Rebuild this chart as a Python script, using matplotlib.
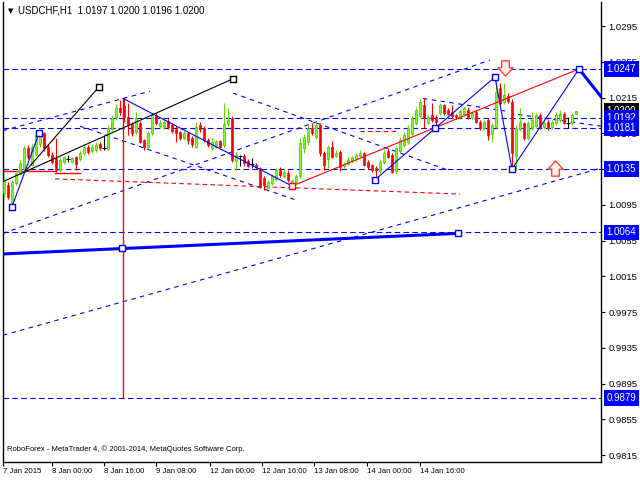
import numpy as np
import matplotlib
matplotlib.use('Agg')
import matplotlib.pyplot as plt
from matplotlib.path import Path

plt.rcParams['font.family'] = ['Liberation Sans', 'DejaVu Sans']


#=== H1 candles, oldest first ===
opens = [1.0108, 1.0117, 1.0097, 1.0119, 1.0130, 1.0135, 1.0159, 1.0140, 1.0152, 1.0163,
         1.0175, 1.0160, 1.0151, 1.0147, 1.0134, 1.0143, 1.0146, 1.0143, 1.0148, 1.0146,
         1.0153, 1.0160, 1.0155, 1.0156, 1.0163, 1.0158, 1.0157, 1.0180, 1.0192, 1.0203,
         1.0206, 1.0193, 1.0185, 1.0176, 1.0186, 1.0167, 1.0160, 1.0175, 1.0195, 1.0183,
         1.0182, 1.0189, 1.0184, 1.0180, 1.0176, 1.0170, 1.0175, 1.0170, 1.0160, 1.0184,
         1.0181, 1.0168, 1.0158, 1.0160, 1.0166, 1.0162, 1.0185, 1.0192, 1.0144, 1.0150,
         1.0150, 1.0144, 1.0141, 1.0140, 1.0136, 1.0125, 1.0114, 1.0119, 1.0124, 1.0134,
         1.0127, 1.0131, 1.0115, 1.0121, 1.0127, 1.0158, 1.0165, 1.0181, 1.0171, 1.0184,
         1.0153, 1.0146, 1.0160, 1.0150, 1.0154, 1.0138, 1.0141, 1.0144, 1.0146, 1.0150,
         1.0153, 1.0143, 1.0139, 1.0136, 1.0133, 1.0143, 1.0155, 1.0151, 1.0133, 1.0155,
         1.0162, 1.0165, 1.0174, 1.0186, 1.0194, 1.0207, 1.0187, 1.0196, 1.0193, 1.0198,
         1.0207, 1.0201, 1.0199, 1.0195, 1.0193, 1.0197, 1.0201, 1.0193, 1.0199, 1.0188,
         1.0181, 1.0190, 1.0174, 1.0182, 1.0226, 1.0210, 1.0217, 1.0210, 1.0150, 1.0180,
         1.0186, 1.0170, 1.0181, 1.0183, 1.0196, 1.0182, 1.0188, 1.0182, 1.0186, 1.0190,
         1.0197, 1.0187, 1.0186, 1.0197]
highs = [1.0126, 1.0120, 1.0123, 1.0134, 1.0145, 1.0161, 1.0162, 1.0163, 1.0176, 1.0179,
         1.0177, 1.0163, 1.0154, 1.0170, 1.0148, 1.0150, 1.0151, 1.0149, 1.0150, 1.0155,
         1.0163, 1.0162, 1.0163, 1.0165, 1.0165, 1.0173, 1.0184, 1.0195, 1.0208, 1.0212,
         1.0214, 1.0209, 1.0188, 1.0199, 1.0189, 1.0169, 1.0178, 1.0198, 1.0198, 1.0190,
         1.0191, 1.0192, 1.0186, 1.0183, 1.0178, 1.0178, 1.0177, 1.0172, 1.0188, 1.0188,
         1.0183, 1.0170, 1.0171, 1.0168, 1.0168, 1.0209, 1.0203, 1.0194, 1.0154, 1.0151,
         1.0152, 1.0146, 1.0147, 1.0142, 1.0137, 1.0127, 1.0123, 1.0129, 1.0136, 1.0137,
         1.0135, 1.0134, 1.0124, 1.0130, 1.0170, 1.0174, 1.0184, 1.0187, 1.0189, 1.0187,
         1.0155, 1.0162, 1.0166, 1.0156, 1.0156, 1.0143, 1.0148, 1.0150, 1.0153, 1.0156,
         1.0154, 1.0145, 1.0141, 1.0138, 1.0146, 1.0156, 1.0158, 1.0153, 1.0161, 1.0171,
         1.0176, 1.0184, 1.0195, 1.0204, 1.0213, 1.0214, 1.0196, 1.0209, 1.0195, 1.0209,
         1.0208, 1.0203, 1.0207, 1.0197, 1.0202, 1.0206, 1.0204, 1.0200, 1.0201, 1.0190,
         1.0190, 1.0192, 1.0187, 1.0238, 1.0231, 1.0231, 1.0220, 1.0213, 1.0184, 1.0203,
         1.0188, 1.0189, 1.0199, 1.0198, 1.0198, 1.0189, 1.0190, 1.0190, 1.0199, 1.0201,
         1.0199, 1.0193, 1.0198, 1.0200]
lows = [1.0103, 1.0101, 1.0093, 1.0117, 1.0128, 1.0133, 1.0146, 1.0138, 1.0150, 1.0160,
        1.0155, 1.0149, 1.0141, 1.0132, 1.0132, 1.0141, 1.0143, 1.0142, 1.0134, 1.0144,
        1.0151, 1.0152, 1.0153, 1.0154, 1.0156, 1.0156, 1.0156, 1.0178, 1.0190, 1.0195,
        1.0188, 1.0173, 1.0172, 1.0174, 1.0164, 1.0156, 1.0158, 1.0173, 1.0184, 1.0181,
        1.0180, 1.0180, 1.0175, 1.0165, 1.0167, 1.0168, 1.0163, 1.0160, 1.0158, 1.0177,
        1.0165, 1.0160, 1.0156, 1.0158, 1.0158, 1.0158, 1.0183, 1.0143, 1.0134, 1.0138,
        1.0140, 1.0137, 1.0136, 1.0135, 1.0114, 1.0112, 1.0113, 1.0117, 1.0122, 1.0126,
        1.0125, 1.0121, 1.0114, 1.0119, 1.0125, 1.0153, 1.0162, 1.0173, 1.0169, 1.0150,
        1.0134, 1.0136, 1.0147, 1.0148, 1.0133, 1.0136, 1.0139, 1.0142, 1.0144, 1.0148,
        1.0138, 1.0135, 1.0132, 1.0123, 1.0131, 1.0141, 1.0147, 1.0131, 1.0130, 1.0153,
        1.0160, 1.0163, 1.0172, 1.0184, 1.0192, 1.0181, 1.0185, 1.0188, 1.0181, 1.0196,
        1.0196, 1.0195, 1.0192, 1.0191, 1.0191, 1.0195, 1.0191, 1.0191, 1.0186, 1.0179,
        1.0179, 1.0168, 1.0165, 1.0181, 1.0207, 1.0208, 1.0209, 1.0135, 1.0134, 1.0178,
        1.0167, 1.0168, 1.0179, 1.0181, 1.0180, 1.0180, 1.0179, 1.0180, 1.0184, 1.0188,
        1.0185, 1.0181, 1.0184, 1.0196]
closes = [1.0123, 1.0104, 1.0120, 1.0131, 1.0142, 1.0159, 1.0149, 1.0160, 1.0173, 1.0175,
          1.0159, 1.0151, 1.0143, 1.0134, 1.0145, 1.0148, 1.0146, 1.0147, 1.0141, 1.0153,
          1.0160, 1.0154, 1.0160, 1.0162, 1.0158, 1.0158, 1.0181, 1.0192, 1.0203, 1.0199,
          1.0193, 1.0184, 1.0175, 1.0192, 1.0165, 1.0160, 1.0175, 1.0196, 1.0187, 1.0187,
          1.0188, 1.0182, 1.0178, 1.0175, 1.0170, 1.0175, 1.0168, 1.0163, 1.0182, 1.0180,
          1.0168, 1.0162, 1.0165, 1.0166, 1.0160, 1.0185, 1.0190, 1.0145, 1.0151, 1.0150,
          1.0142, 1.0138, 1.0141, 1.0137, 1.0115, 1.0117, 1.0121, 1.0127, 1.0134, 1.0128,
          1.0132, 1.0123, 1.0122, 1.0127, 1.0164, 1.0171, 1.0181, 1.0175, 1.0184, 1.0153,
          1.0140, 1.0160, 1.0149, 1.0153, 1.0137, 1.0141, 1.0145, 1.0148, 1.0151, 1.0153,
          1.0140, 1.0137, 1.0134, 1.0134, 1.0143, 1.0153, 1.0149, 1.0132, 1.0159, 1.0168,
          1.0173, 1.0181, 1.0192, 1.0201, 1.0210, 1.0192, 1.0193, 1.0190, 1.0188, 1.0207,
          1.0198, 1.0197, 1.0194, 1.0193, 1.0200, 1.0203, 1.0193, 1.0198, 1.0188, 1.0181,
          1.0188, 1.0173, 1.0184, 1.0221, 1.0209, 1.0218, 1.0211, 1.0153, 1.0181, 1.0188,
          1.0170, 1.0187, 1.0190, 1.0196, 1.0182, 1.0187, 1.0181, 1.0188, 1.0196, 1.0197,
          1.0187, 1.0187, 1.0196, 1.0200]

#=== axis texts ===
time_ticks = [-0.25, 12, 25, 38, 51.5, 64.5, 77.5, 90.75, 104]
time_labels = ['7 Jan 2015', '8 Jan 00:00', '8 Jan 16:00', '9 Jan 08:00', '12 Jan 00:00',
               '12 Jan 16:00', '13 Jan 08:00', '14 Jan 00:00', '14 Jan 16:00']
price_ticks = [0.9815, 0.9855, 0.9895, 0.9935, 0.9975, 1.0015, 1.0055, 1.0095,
               1.0135, 1.0175, 1.0215, 1.0255, 1.0295]
level_prices = [1.0247, 1.0192, 1.0181, 1.0135, 1.0064, 0.9879]
last_price = 1.0200

#=== analysis objects (bar number, price) ===
zigzag_bars = [[2, 8.75], [29.75, 72], [92.75, 122.75, 127, 143.75]]
zigzag_prices = [[1.0093, 1.0175], [1.0214, 1.0116], [1.0123, 1.0238, 1.0135, 1.0247]]
forecast_bars = [143.75, 149.6]
forecast_prices = [1.0247, 1.0214]
base_bars = [-0.25, 113.5]
base_prices = [1.0040, 1.0063]
red_bars = [72, 143.75]
red_prices = [1.0116, 1.0247]
vert_bar = 29.75
vert_prices = [1.0214, 0.9879]
black_bars = [[5.25, 23.75], [-0.25, 57.25]]
black_prices = [[1.0132, 1.0227], [1.0121, 1.0236]]
redflat_bars = [[-0.25, 12.75], [12.75, 19]]
redflat_prices = [[1.0133, 1.0133], [1.0131, 1.0131]]
reddash_bars = [[12.75, 114], [89, 98]]
reddash_prices = [[1.0124, 1.0107], [1.01775, 1.01775]]
trend_bars = [[-0.25, 149.25], [-0.25, 121.5], [-0.25, 36.5], [19, 73.25], [57.25, 111.5],
              [104.75, 125.25], [128.5, 149.25]]
trend_prices = [[0.9949, 1.0136], [1.0063, 1.0257], [1.0178, 1.0222], [1.0183, 1.0100],
                [1.0220, 1.0133], [1.0214, 1.0200], [1.0196, 1.0183]]
blue_sq_bars = [2, 8.75, 92.75, 107.75, 122.75, 127, 143.75, 29.5, 113.5]
blue_sq_prices = [1.0093, 1.0175, 1.0123, 1.0181, 1.0238, 1.0135, 1.0247, 1.0047, 1.0063]
red_sq_bars = [72]
red_sq_prices = [1.0116]
black_sq_bars = [23.75, 57.25]
black_sq_prices = [1.0227, 1.0236]
arrow_down = (125.25, 1.0248)
arrow_up = (137.75, 1.0136)

BLUE = '#0000ff'
RED = '#ff0000'
BULL = '#86f52a'
BULL_EDGE = '#44c000'

#=== figure ===
fig = plt.figure(figsize=(6.4, 4.8), dpi=100)
ax = fig.add_axes([3 / 640, 18 / 480, 598 / 640, 460 / 480])
ax.set_xlim(-0.25, 149.25)
ax.set_ylim(0.98072, 1.03219)

# horizontal levels
for lv in level_prices:
    ax.axhline(lv, color=BLUE, lw=0.8, ls=(0, (5, 3)), zorder=1)

# dashed trend lines
for bx, py in zip(trend_bars, trend_prices):
    ax.plot(bx, py, color=BLUE, lw=0.8, ls=(0, (4, 4)), zorder=1)
for bx, py in zip(reddash_bars, reddash_prices):
    ax.plot(bx, py, color=RED, lw=0.8, ls=(0, (4, 3)), zorder=1)
for bx, py in zip(redflat_bars, redflat_prices):
    ax.plot(bx, py, color=RED, lw=1.0, zorder=1)

ax.plot([vert_bar, vert_bar], vert_prices, color=RED, lw=1.0, zorder=1)
ax.plot(base_bars, base_prices, color=BLUE, lw=2.2, zorder=2)
ax.plot(red_bars, red_prices, color=RED, lw=0.8, zorder=4)
for bx, py in zip(black_bars, black_prices):
    ax.plot(bx, py, color='black', lw=0.8, zorder=4)

#--- candles ---
n = len(opens)
xs = np.arange(n)
o = np.array(opens)
h = np.array(highs)
l = np.array(lows)
c = np.array(closes)
up = c > o
dn = c < o
dj = c == o
ax.vlines(xs[up], l[up], h[up], color='#66dd00', lw=0.8, zorder=3)
ax.vlines(xs[dn], l[dn], h[dn], color=RED, lw=0.8, zorder=3)
ax.vlines(xs[dj], l[dj], h[dj], color='black', lw=0.8, zorder=3)
ax.bar(xs[up], (c - o)[up], bottom=o[up], width=0.72, color=BULL, edgecolor=BULL_EDGE,
       lw=0.5, zorder=3)
ax.bar(xs[dn], (o - c)[dn], bottom=c[dn], width=0.72, color=RED, edgecolor=RED,
       lw=0.5, zorder=3)
ax.hlines(c[dj], xs[dj] - 0.4, xs[dj] + 0.4, color='black', lw=0.8, zorder=3)

# zigzag + forecast
for bx, py in zip(zigzag_bars, zigzag_prices):
    ax.plot(bx, py, color=BLUE, lw=0.8, zorder=5)
ax.plot(forecast_bars, forecast_prices, color=BLUE, lw=2.2, zorder=5)

ax.scatter(blue_sq_bars, blue_sq_prices, marker='s', s=22, facecolor='white',
           edgecolor=BLUE, lw=1.0, zorder=6)
ax.scatter(red_sq_bars, red_sq_prices, marker='s', s=22, facecolor='white',
           edgecolor=RED, lw=1.0, zorder=6)
ax.scatter(black_sq_bars, black_sq_prices, marker='s', s=22, facecolor='white',
           edgecolor='black', lw=1.0, zorder=6)

# hollow arrows
arrow_path = Path([(-0.5, 1), (0.5, 1), (0.5, 0.1), (1, 0.1), (0, -1), (-1, 0.1),
                   (-0.5, 0.1), (-0.5, 1)], closed=True)
arrow_up_path = Path([(x, -y) for x, y in arrow_path.vertices], closed=True)
ax.scatter([arrow_down[0]], [arrow_down[1]], marker=arrow_path, s=120, facecolor='#fff0f0',
           edgecolor='#ff4040', lw=1.0, zorder=7)
ax.scatter([arrow_up[0]], [arrow_up[1]], marker=arrow_up_path, s=120, facecolor='#fff0f0',
           edgecolor='#ff4040', lw=1.0, zorder=7)

#--- axes styling ---
for side in ['left', 'right', 'bottom']:
    ax.spines[side].set_color('black')
    ax.spines[side].set_linewidth(1.0)
ax.spines['top'].set_visible(False)
ax.yaxis.tick_right()
ax.set_yticks(price_ticks)
ax.set_yticklabels([f'{p:.4f}' for p in price_ticks])
ax.tick_params(axis='y', direction='out', length=3, width=0.8, pad=2.5, labelsize=6.8)
ax.set_xticks(time_ticks)
ax.set_xticklabels(time_labels)
ax.tick_params(axis='x', direction='out', length=3, width=0.8, pad=1, labelsize=5.6)
for lab in ax.get_xticklabels():
    lab.set_ha('left')

# price labels on the right axis
for lv in level_prices:
    ax.annotate(f'{lv:.4f}', xy=(1, lv), xycoords=('axes fraction', 'data'),
                xytext=(4, 0), textcoords='offset points', ha='left', va='center',
                fontsize=7, color='white', zorder=10, annotation_clip=False,
                bbox=dict(boxstyle='square,pad=0.28', fc=BLUE, ec='none'))
ax.annotate(f'{last_price:.4f}', xy=(1, last_price), xycoords=('axes fraction', 'data'),
            xytext=(4, 0), textcoords='offset points', ha='left', va='center',
            fontsize=7, color='white', zorder=9, annotation_clip=False,
            bbox=dict(boxstyle='square,pad=0.28', fc='black', ec='none'))

ax.text(0.008, 0.981, '\u25bc', transform=ax.transAxes, fontsize=5, va='center', ha='left',
        family=['DejaVu Sans'])
ax.text(0.025, 0.981, 'USDCHF,H1  1.0197 1.0200 1.0196 1.0200', transform=ax.transAxes,
        fontsize=7, va='center', ha='left')
ax.text(0.006, 0.027, 'RoboForex - MetaTrader 4, \u00a9 2001-2014, MetaQuotes Software Corp.',
        transform=ax.transAxes, fontsize=5.5, va='center', ha='left')

fig.savefig('out.png', dpi=100, facecolor='white')
